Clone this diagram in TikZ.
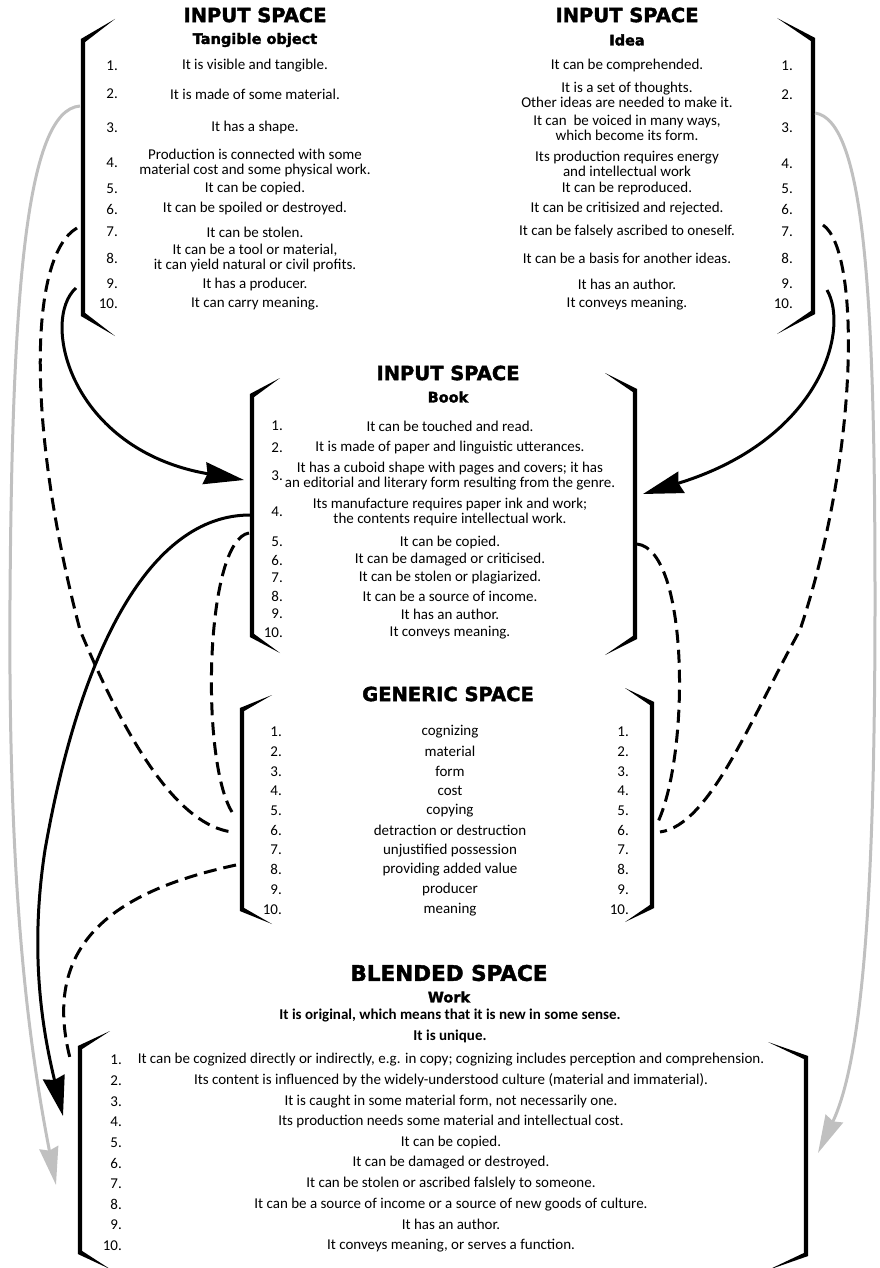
\documentclass[tikz,border=0pt]{standalone}
\usepackage{fontspec}
\usepackage{tikz}
\setmainfont{Carlito}
\newfontfamily\headfont{DejaVu Sans}[BoldFeatures={FakeBold=2}]
\usetikzlibrary{arrows.meta}
\definecolor{linegray}{RGB}{192,192,192}
% tapered brackets: x, top y, bottom y, tick dx, tick dy
\newcommand{\brackL}[5]{%
  \fill ({#1+#4},{#2-#5}) -- ({#1-2.2},{#2-1}) -- ({#1-2.2},{#3+1}) -- ({#1+#4},{#3+#5})
    -- ({#1+2.2},{#3-2}) -- ({#1+2.2},{#2+2}) -- cycle;}
\newcommand{\brackR}[5]{%
  \fill ({#1-#4},{#2-#5}) -- ({#1+2.2},{#2-1}) -- ({#1+2.2},{#3+1}) -- ({#1-#4},{#3+#5})
    -- ({#1-2.2},{#3-2}) -- ({#1-2.2},{#2+2}) -- cycle;}

\begin{document}
\begin{tikzpicture}[x=1pt,y=-1pt,
  every node/.style={inner sep=0pt},
  head/.style={font=\headfont\bfseries\fontsize{19.5}{22}\selectfont},
  subhead/.style={font=\headfont\bfseries\fontsize{14.5}{16}\selectfont},
  row/.style={align=center,font=\fontsize{15}{15.5}\selectfont},
  num/.style={anchor=east,font=\fontsize{15}{15.5}\selectfont},
  blackarr/.style={line width=3pt,-{Stealth[length=40pt,width=22pt,inset=3pt]}},
  grayarr/.style={line width=3pt,linegray,-{Stealth[length=38pt,width=19pt,inset=3pt]}},
  dasharr/.style={line width=3pt,dash pattern=on 13pt off 7pt}]
  \useasboundingbox (0,0) rectangle (879,1268);

  % input space: tangible object
  \node[head] (tl-head) at (255,15) {INPUT SPACE};
  \node[subhead] (tl-sub) at (255,40) {Tangible object};
  \brackL{83}{40}{315}{32}{21}
  \foreach \n/\y/\txt in {1/66/{It is visible and tangible.},
    2/94/{It is made of some material.},
    3/128/{It has a shape.},
    4/163/{Production is connected with some\\material cost and some physical work.},
    5/189/{It can be copied.},
    6/209/{It can be spoiled or destroyed.},
    7/232/{It can be stolen.},
    8/258/{It can be a tool or material,\\it can yield natural or civil profits.},
    9/284/{It has a producer.},
    10/304/{It can carry meaning.}}{
    \node[num] (tl-num-\n) at (118,\y) {\n.};
    \node[row] (tl-\n) at (255,\y) {\txt};
  }

  % input space: idea
  \node[head] (tr-head) at (627,15) {INPUT SPACE};
  \node[subhead] (tr-sub) at (627,40) {Idea};
  \brackR{813}{39}{313}{36}{21}
  \foreach \n/\y/\txt in {1/66/{It can be comprehended.},
    2/95/{It is a set of thoughts.\\Other ideas are needed to make it.},
    3/128/{It can~ be voiced in many ways,\\which become its form.},
    4/164/{Its production requires energy\\and intellectual work},
    5/189/{It can be reproduced.},
    6/209/{It can be critisized and rejected.},
    7/232/{It can be falsely ascribed to oneself.},
    8/258/{It can be a basis for another ideas.},
    9/284/{It has an author.},
    10/304/{It conveys meaning.}}{
    \node[num] (tr-num-\n) at (793,\y) {\n.};
    \node[row] (tr-\n) at (627,\y) {\txt};
  }

  % input space: book
  \node[head] (bk-head) at (448,373) {INPUT SPACE};
  \node[subhead] (bk-sub) at (448,397) {Book};
  \brackL{252}{395}{636}{28}{17}
  \brackR{635}{390}{638}{30}{17}
  \foreach \n/\y/\txt in {1/426/{It can be touched and read.},
    2/448/{It is made of paper and linguistic utterances.},
    3/476/{It has a cuboid shape with pages and covers; it has\\an editorial and literary form resulting from the genre.},
    4/512/{Its manufacture requires paper ink and work;\\the contents require intellectual work.},
    5/542/{It can be copied.},
    6/560/{It can be damaged or criticised.},
    7/578/{It can be stolen or plagiarized.},
    8/596/{It can be a source of income.},
    9/614/{It has an author.},
    10/633/{It conveys meaning.}}{
    \node[num] (bk-num-\n) at (283,\y) {\n.};
    \node[row] (bk-\n) at (450,\y) {\txt};
  }

  % generic space
  \node[head] (gen-head) at (448,694) {GENERIC SPACE};
  \brackL{242}{709}{910}{30}{14}
  \brackR{652}{703}{907}{27}{15}
  \foreach \n/\txt in {1/cognizing,2/material,3/form,4/cost,5/copying,
    6/detraction or destruction,7/unjustified possession,
    8/providing added value,9/producer,10/meaning}{
    \node[num] (gen-numL-\n) at (282,{732+19.7*(\n-1)}) {\n.};
    \node[row] (gen-\n) at (450,{732+19.7*(\n-1)}) {\txt};
    \node[num] (gen-numR-\n) at (629,{732+19.7*(\n-1)}) {\n.};
  }

  % blended space
  \node[head,font=\headfont\bfseries\fontsize{21.5}{24}\selectfont] (bl-head) at (449,973) {BLENDED SPACE};
  \node[subhead] (bl-sub) at (449,997) {Work};
  \node[row,font=\bfseries\fontsize{15}{15.5}\selectfont] (bl-orig) at (450,1015) {It is original, which means that it is new in some sense.};
  \node[row,font=\bfseries\fontsize{15}{15.5}\selectfont] (bl-uniq) at (450,1036) {It is unique.};
  \brackL{80}{1047}{1253}{30}{16}
  \brackR{806}{1057}{1255}{38}{15}
  \foreach \n/\txt in {1/{It can be cognized directly or indirectly, e.g. in copy; cognizing includes perception and comprehension.},
    2/{Its content is influenced by the widely-understood culture (material and immaterial).},
    3/{It is caught in some material form, not necessarily one.},
    4/{Its production needs some material and intellectual cost.},
    5/{It can be copied.},
    6/{It can be damaged or destroyed.},
    7/{It can be stolen or ascribed falslely to someone.},
    8/{It can be a source of income or a source of new goods of culture.},
    9/{It has an author.},
    10/{It conveys meaning, or serves a function.}}{
    \node[num] (bl-num-\n) at (122,{1060+20.6*(\n-1)}) {\n.};
    \node[row] (bl-\n) at (451,{1060+20.6*(\n-1)}) {\txt};
  }

  % connector ends on the brackets
  \coordinate (tl-gray) at (80,106);
  \coordinate (bl-gray) at (56,1185);
  \coordinate (tr-gray) at (815,113);
  \coordinate (br-gray) at (818,1153);
  \coordinate (tl-out) at (76,288);
  \coordinate (bk-inL) at (244,480);
  \coordinate (tr-out) at (827,290);
  \coordinate (bk-inR) at (643,494);
  \coordinate (bk-outL) at (250,515);
  \coordinate (bl-in) at (63,1116);
  \coordinate (tl-dash) at (77,228);
  \coordinate (gen-L6) at (232,832);
  \coordinate (bk-dashL) at (249,533);
  \coordinate (gen-L5) at (232,812);
  \coordinate (gen-L8) at (236,865);
  \coordinate (bl-top) at (70,1058);
  \coordinate (tr-dash) at (823,225);
  \coordinate (gen-R6) at (660,832);
  \coordinate (bk-dashR) at (637,544);
  \coordinate (gen-R6b) at (656,826);

  % gray arrows to the blend
  \draw[grayarr] (tl-gray) .. controls (25,110) and (12,300) .. (10,600)
    .. controls (8,900) and (30,1050) .. (bl-gray);
  \draw[grayarr] (tr-gray) .. controls (865,120) and (875,300) .. (875,600)
    .. controls (875,900) and (862,1060) .. (br-gray);

  % solid arrows
  \draw[blackarr] (tl-out) .. controls (40,320) and (70,450) .. (bk-inL);
  \draw[blackarr] (tr-out) .. controls (850,330) and (820,440) .. (bk-inR);
  \draw[blackarr] (bk-outL) .. controls (150,515) and (80,650) .. (45,850)
    .. controls (28,960) and (45,1040) .. (bl-in);

  % dashed links
  \draw[dasharr] (tl-dash) .. controls (30,255) and (25,420) .. (80,630)
    .. controls (130,750) and (180,825) .. (gen-L6);
  \draw[dasharr] (bk-dashL) .. controls (205,540) and (200,760) .. (gen-L5);
  \draw[dasharr] (gen-L8) .. controls (120,890) and (40,940) .. (bl-top);
  \draw[dasharr] (tr-dash) .. controls (860,250) and (860,450) .. (800,630)
    .. controls (750,720) and (710,825) .. (gen-R6);
  \draw[dasharr] (bk-dashR) .. controls (690,550) and (690,760) .. (gen-R6b);
\end{tikzpicture}
\end{document}
